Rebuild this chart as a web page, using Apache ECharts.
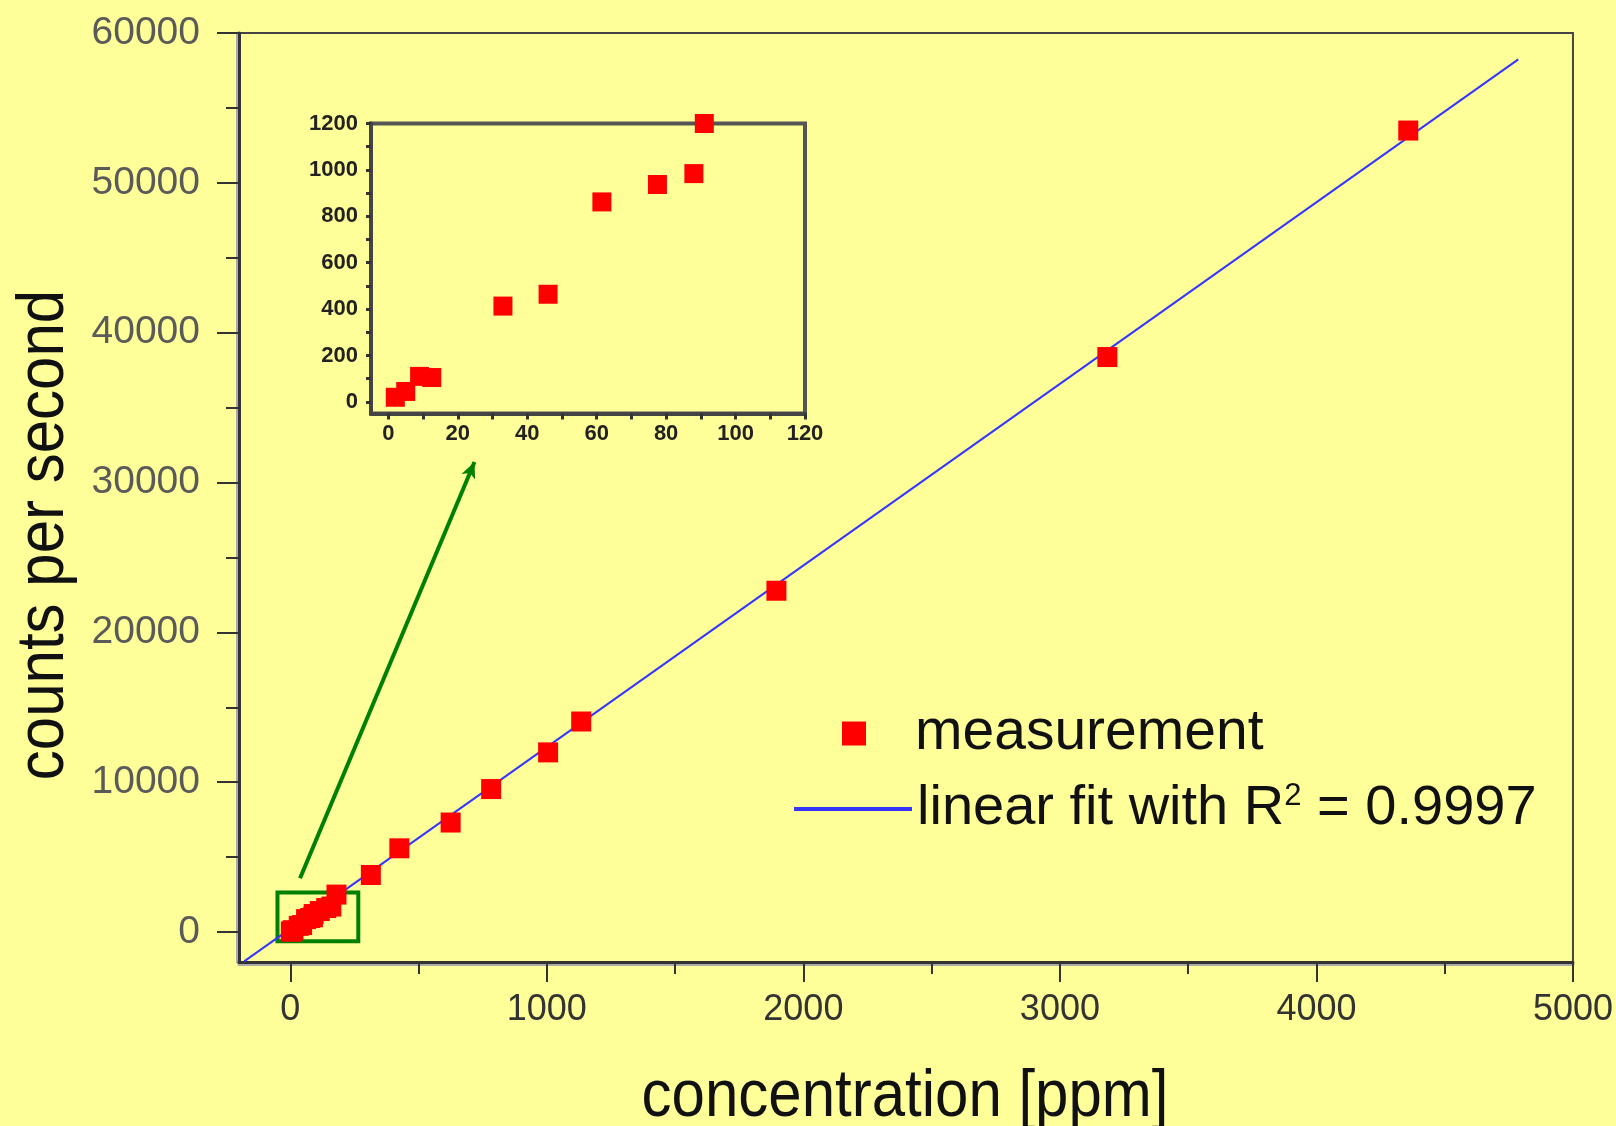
<!DOCTYPE html>
<html><head><meta charset="utf-8">
<script src="https://cdn.jsdelivr.net/npm/echarts@6/dist/echarts.min.js"></script>
<style>html,body{margin:0;padding:0;background:#ffff99;} #c{width:1616px;height:1126px;}</style>
</head><body><div id="c"></div>
<script>
// ---- data ----
const concentration   = [2, 5, 9, 12.5, 33, 46, 61.5, 77.5, 88, 91, 115, 140, 160, 180, 314, 425, 625, 783, 1005, 1134, 1895, 3185, 4358];
const countsPerSecond = [20, 45, 110, 105, 413, 464, 862, 937, 984, 1200, 1400, 1600, 1700, 2500, 3807, 5588, 7308, 9542, 11989, 14050, 22778, 38374, 53490];
const fitConcentration = [-180, 4787];
const fitCounts        = [-1960, 58240];
const xTickLabels = [0, 1000, 2000, 3000, 4000, 5000];
const xMinorTicks = [500, 1500, 2500, 3500, 4500];
const yTickLabels = [0, 10000, 20000, 30000, 40000, 50000, 60000];
const yMinorTicks = [5000, 15000, 25000, 35000, 45000, 55000];
const insetXTickLabels = [0, 20, 40, 60, 80, 100, 120];
const insetXTicks = [0, 10, 20, 30, 40, 50, 60, 70, 80, 90, 100, 110, 120];
const insetYTickLabels = [0, 200, 400, 600, 800, 1000, 1200];
const insetYTicks = [0, 100, 200, 300, 400, 500, 600, 700, 800, 900, 1000, 1100, 1200];
const zoomBoxFrom = [-50, -620];
const zoomBoxTo = [265, 2630];
const arrowFrom = [38, 3590];
const arrowTo = [718, 31370];
const xTitle = 'concentration [ppm]';
const yTitle = 'counts per second';
const seriesMeasurement = 'measurement';
const seriesFit = 'linear fit with R2 = 0.9997';
const fitLegendRich = 'linear fit with R{sup|2} = 0.9997';

const FONT = '"Liberation Sans", Arial, sans-serif';
const points = concentration.map((c, i) => [c, countsPerSecond[i]]);
const fitPoints = fitConcentration.map((c, i) => [c, fitCounts[i]]);
const plain = v => String(v);

const chart = echarts.init(document.getElementById('c'), null, {renderer: 'canvas'});
const axisLineMainX = {show: true, onZero: false, lineStyle: {color: '#333', width: 3, shadowColor: '#aaa', shadowOffsetY: 2}};
const axisLineMainY = {show: true, onZero: false, lineStyle: {color: '#333', width: 3, shadowColor: '#aaa', shadowOffsetX: -2}};

chart.setOption({
  backgroundColor: '#ffff99',
  animation: false,
  grid: [
    {left: 239, top: 33, width: 1336, height: 929, show: true, borderColor: '#444', borderWidth: 2, backgroundColor: 'transparent'},
    {left: 371, top: 123.5, width: 434, height: 290, show: true, borderColor: '#555', borderWidth: 4, backgroundColor: '#ffff99', z: 10}
  ],
  xAxis: [
    {type: 'value', gridIndex: 0, min: -200, max: 5000, position: 'bottom',
     axisLine: axisLineMainX, splitLine: {show: false},
     axisTick: {show: true, customValues: xTickLabels, length: 20, lineStyle: {color: '#333', width: 2}},
     axisLabel: {show: true, customValues: xTickLabels, formatter: plain, margin: 30, fontSize: 36, color: '#333', fontFamily: FONT}},
    {type: 'value', gridIndex: 0, min: -200, max: 5000, position: 'bottom',
     axisLine: {show: false, onZero: false}, splitLine: {show: false},
     axisTick: {show: true, customValues: xMinorTicks, length: 12, lineStyle: {color: '#333', width: 2}},
     axisLabel: {show: false}},
    {type: 'value', gridIndex: 1, min: -5, max: 120, position: 'bottom', z: 12,
     axisLine: {show: true, onZero: false, lineStyle: {color: '#444', width: 4}}, splitLine: {show: false},
     axisTick: {show: true, customValues: insetXTicks, length: 6, lineStyle: {color: '#333', width: 3}},
     axisLabel: {show: true, customValues: insetXTickLabels, formatter: plain, margin: 9, fontSize: 22, fontWeight: 'bold', color: '#222', fontFamily: FONT}}
  ],
  yAxis: [
    {type: 'value', gridIndex: 0, min: -2000, max: 60000, position: 'left',
     axisLine: axisLineMainY, splitLine: {show: false},
     axisTick: {show: true, customValues: yTickLabels, length: 22, lineStyle: {color: '#333', width: 2}},
     axisLabel: {show: true, customValues: yTickLabels, formatter: plain, margin: 39, fontSize: 39, color: '#5a5a5a', fontFamily: FONT}},
    {type: 'value', gridIndex: 0, min: -2000, max: 60000, position: 'left',
     axisLine: {show: false, onZero: false}, splitLine: {show: false},
     axisTick: {show: true, customValues: yMinorTicks, length: 13, lineStyle: {color: '#333', width: 2}},
     axisLabel: {show: false}},
    {type: 'value', gridIndex: 1, min: -50, max: 1200, position: 'left', z: 12,
     axisLine: {show: true, onZero: false, lineStyle: {color: '#444', width: 4}}, splitLine: {show: false},
     axisTick: {show: true, customValues: insetYTicks, length: 5, lineStyle: {color: '#333', width: 3}},
     axisLabel: {show: true, customValues: insetYTickLabels, formatter: plain, margin: 13, fontSize: 22, fontWeight: 'bold', color: '#222', fontFamily: FONT}}
  ],
  legend: [
    {data: [seriesMeasurement], left: 842, top: 705, padding: 0, orient: 'vertical',
     itemWidth: 24, itemHeight: 24, icon: 'rect',
     itemStyle: {opacity: 1},
     textStyle: {fontSize: 57, color: '#111', fontFamily: FONT, padding: [0, 0, 0, 44]}, selectedMode: false},
    {data: [{name: seriesFit, icon: 'path://M0 0H100V3.6H0Z'}], left: 794, top: 781, padding: 0, orient: 'vertical',
     itemWidth: 118, itemHeight: 14, symbolKeepAspect: true,
     formatter: fitLegendRich,
     textStyle: {fontSize: 56, lineHeight: 56, color: '#111', fontFamily: FONT,
       rich: {sup: {fontSize: 31, lineHeight: 8, verticalAlign: 'top', color: '#111', fontFamily: FONT}}},
     selectedMode: false}
  ],
  graphic: [
    {type: 'text', x: 905, y: 1097, scaleY: 1.12, silent: true,
     style: {text: xTitle, fontSize: 60, fontFamily: FONT, fill: '#111', align: 'center', verticalAlign: 'middle'}},
    {type: 'text', x: 44, y: 535, rotation: Math.PI / 2, scaleY: 1.12, silent: true,
     style: {text: yTitle, fontSize: 60, fontFamily: FONT, fill: '#111', align: 'center', verticalAlign: 'middle'}}
  ],
  series: [
    {name: seriesFit, type: 'line', xAxisIndex: 0, yAxisIndex: 0, data: fitPoints,
     symbol: 'none', lineStyle: {color: '#3535ff', width: 2}, itemStyle: {color: '#3535ff'}, z: 3,
     markArea: {silent: true, itemStyle: {color: 'rgba(0,0,0,0)', borderColor: '#008000', borderWidth: 4},
       data: [[{coord: zoomBoxFrom}, {coord: zoomBoxTo}]]},
     markLine: {silent: true, symbol: ['none', 'arrow'], symbolSize: [11, 16],
       lineStyle: {color: '#008000', width: 4, type: 'solid'}, label: {show: false},
       data: [[{coord: arrowFrom}, {coord: arrowTo}]]}},
    {name: seriesMeasurement, type: 'scatter', xAxisIndex: 0, yAxisIndex: 0, data: points,
     symbol: 'rect', symbolSize: 20, itemStyle: {color: '#ff0000', opacity: 1}, z: 5},
    {name: 'measurement (inset)', type: 'scatter', xAxisIndex: 2, yAxisIndex: 2, data: points,
     symbol: 'rect', symbolSize: 19, itemStyle: {color: '#ff0000', opacity: 1}, z: 11, clip: true}
  ]
});
</script>
</body></html>
